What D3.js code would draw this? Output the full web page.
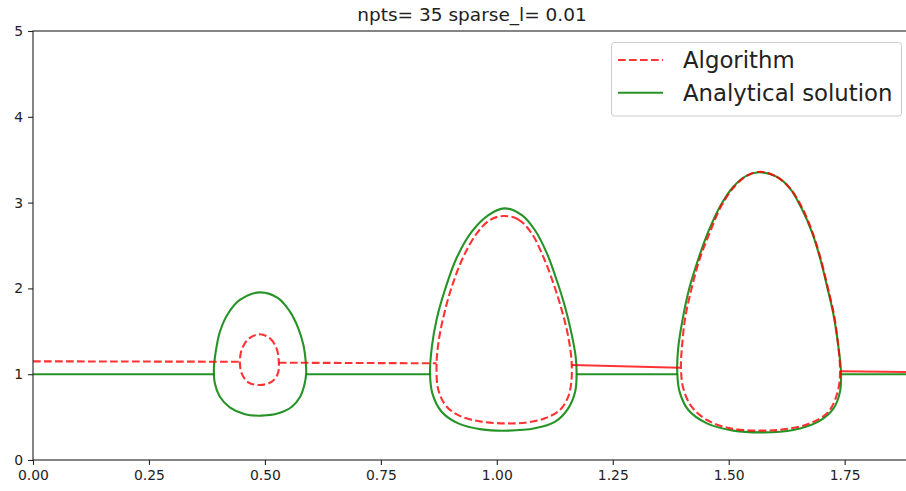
<!DOCTYPE html>
<html>
<head>
<meta charset="utf-8">
<script src="https://cdn.jsdelivr.net/npm/d3@7/dist/d3.min.js"></script>
<style>
  body { margin: 0; background: #fff; }
  svg { display: block; }
</style>
</head>
<body>
<div class="chart"></div>
<script>
// tick values
const xTicks = [0, 0.25, 0.5, 0.75, 1.0, 1.25, 1.5, 1.75];
const yTicks = [0, 1, 2, 3, 4, 5];
const titleText = "npts= 35 sparse_l= 0.01";
const legendLabels = ["Algorithm", "Analytical solution"];

// analytical solution: flat parts between the drops
const exactFlat = [
  [[0, 1.0], [0.390, 1.0]],
  [[0.589, 1.0], [0.856, 1.0]],
  [[1.172, 1.0], [1.389, 1.0]],
  [[1.742, 1.0], [1.893, 1.0]]
];
// analytical solution: the three drops
const exactDrop1 = [
  [0.489, 1.954], [0.529, 1.885], [0.554, 1.729], [0.572, 1.535], [0.583, 1.340],
  [0.588, 1.146], [0.589, 1.010], [0.585, 0.874], [0.576, 0.738], [0.558, 0.621],
  [0.529, 0.544], [0.493, 0.517], [0.457, 0.533], [0.425, 0.610], [0.403, 0.738],
  [0.392, 0.894], [0.390, 1.069], [0.394, 1.262], [0.403, 1.495], [0.421, 1.710],
  [0.446, 1.865]
];
const exactDrop2 = [
  [1.016, 2.933], [1.054, 2.855], [1.082, 2.681], [1.108, 2.409], [1.129, 2.098],
  [1.147, 1.787], [1.161, 1.476], [1.170, 1.204], [1.172, 1.010], [1.169, 0.797],
  [1.154, 0.602], [1.126, 0.447], [1.082, 0.369], [1.025, 0.342], [0.967, 0.357],
  [0.917, 0.427], [0.881, 0.563], [0.861, 0.777], [0.856, 1.010], [0.860, 1.321],
  [0.870, 1.632], [0.888, 1.981], [0.913, 2.351], [0.946, 2.661], [0.982, 2.855]
];
const exactDrop3 = [
  [1.566, 3.353], [1.603, 3.302], [1.632, 3.166], [1.657, 2.933], [1.679, 2.661],
  [1.697, 2.351], [1.713, 2.001], [1.726, 1.690], [1.736, 1.340], [1.742, 1.029],
  [1.740, 0.797], [1.726, 0.602], [1.693, 0.447], [1.639, 0.350], [1.575, 0.322],
  [1.510, 0.342], [1.453, 0.427], [1.413, 0.583], [1.394, 0.797], [1.389, 1.029],
  [1.391, 1.302], [1.401, 1.651], [1.415, 2.001], [1.435, 2.351], [1.456, 2.661],
  [1.481, 2.952], [1.510, 3.185], [1.539, 3.314]
];

// algorithm: flat parts (last two look solid in the picture)
const algoFlat = [
  [[0, 1.150], [0.446, 1.145]],
  [[0.530, 1.134], [0.870, 1.127]],
  [[1.161, 1.107], [1.395, 1.076]],
  [[1.740, 1.035], [1.893, 1.025]]
];
const algoFlatDashed = [true, true, false, false];
// algorithm: the three drops
const algoDrop1 = [
  [0.489, 1.465], [0.511, 1.418], [0.525, 1.302], [0.530, 1.146], [0.528, 1.010],
  [0.515, 0.913], [0.489, 0.874], [0.464, 0.905], [0.450, 1.010], [0.446, 1.146],
  [0.451, 1.302], [0.466, 1.418]
];
const algoDrop2 = [
  [1.014, 2.844], [1.046, 2.805], [1.075, 2.642], [1.100, 2.370], [1.122, 2.059],
  [1.140, 1.748], [1.154, 1.437], [1.161, 1.166], [1.161, 0.932], [1.154, 0.738],
  [1.136, 0.583], [1.104, 0.486], [1.061, 0.435], [1.018, 0.427], [0.967, 0.447],
  [0.924, 0.505], [0.892, 0.621], [0.874, 0.816], [0.870, 1.087], [0.874, 1.360],
  [0.885, 1.670], [0.903, 2.020], [0.928, 2.370], [0.957, 2.642], [0.985, 2.797]
];
const algoDrop3 = [
  [1.569, 3.360], [1.603, 3.302], [1.632, 3.166], [1.659, 2.933], [1.680, 2.661],
  [1.698, 2.351], [1.714, 2.001], [1.727, 1.690], [1.736, 1.340], [1.740, 1.029],
  [1.735, 0.797], [1.715, 0.563], [1.675, 0.427], [1.618, 0.357], [1.567, 0.342],
  [1.503, 0.369], [1.453, 0.466], [1.420, 0.621], [1.402, 0.836], [1.397, 1.069],
  [1.399, 1.302], [1.406, 1.651], [1.420, 2.001], [1.438, 2.351], [1.460, 2.661],
  [1.485, 2.972], [1.514, 3.197], [1.542, 3.322]
];

const WIDTH = 906, HEIGHT = 491;
const M = { left: 33, right: 911, top: 31, bottom: 460 };
const RED = "#ff0000", GREEN = "#008000";
const FONT = "'DejaVu Sans', sans-serif";

const svg = d3.select(".chart").append("svg")
  .attr("width", WIDTH).attr("height", HEIGHT);

const x = d3.scaleLinear().domain([0, 1.893]).range([M.left, M.right]);
const y = d3.scaleLinear().domain([0, 5]).range([M.bottom, M.top]);

svg.append("clipPath").attr("id", "plotclip")
  .append("rect")
  .attr("x", M.left).attr("y", M.top)
  .attr("width", M.right - M.left).attr("height", M.bottom - M.top);

const plot = svg.append("g").attr("clip-path", "url(#plotclip)");

const line = d3.line().x(d => x(d[0])).y(d => y(d[1]));
const loop = d3.line().x(d => x(d[0])).y(d => y(d[1]))
  .curve(d3.curveCatmullRomClosed.alpha(0.5));

// analytical (green)
exactFlat.forEach(seg => {
  plot.append("path").attr("d", line(seg))
    .attr("fill", "none").attr("stroke", GREEN).attr("stroke-opacity", 0.85)
    .attr("stroke-width", 2.1);
});
[exactDrop1, exactDrop2, exactDrop3].forEach(pts => {
  plot.append("path").attr("d", loop(pts))
    .attr("fill", "none").attr("stroke", GREEN).attr("stroke-opacity", 0.85)
    .attr("stroke-width", 2.1);
});

// algorithm (red dashed)
algoFlat.forEach((seg, i) => {
  plot.append("path").attr("d", line(seg))
    .attr("fill", "none").attr("stroke", RED).attr("stroke-opacity", 0.8)
    .attr("stroke-width", 2.1)
    .attr("stroke-dasharray", algoFlatDashed[i] ? "7.7,3.3" : null);
});
[algoDrop1, algoDrop2, algoDrop3].forEach(pts => {
  plot.append("path").attr("d", loop(pts))
    .attr("fill", "none").attr("stroke", RED).attr("stroke-opacity", 0.8)
    .attr("stroke-width", 2.1)
    .attr("stroke-dasharray", "7.7,3.3");
});

// axes
const xAxis = svg.append("g")
  .attr("transform", `translate(0,${M.bottom})`)
  .call(d3.axisBottom(x).tickValues(xTicks).tickFormat(d3.format(".2f"))
    .tickSize(4.9).tickPadding(4.9));
const yAxis = svg.append("g")
  .attr("transform", `translate(${M.left},0)`)
  .call(d3.axisLeft(y).tickValues(yTicks).tickFormat(d3.format("d"))
    .tickSize(4.9).tickPadding(4.9));
[xAxis, yAxis].forEach(g => {
  g.select(".domain").remove();
  g.selectAll(".tick line").attr("stroke", "#222").attr("stroke-width", 1.1);
  g.selectAll(".tick text").attr("fill", "#222")
    .style("font-family", FONT).style("font-size", "13.9px");
});

// spines
svg.append("rect")
  .attr("x", M.left).attr("y", M.top)
  .attr("width", M.right - M.left).attr("height", M.bottom - M.top)
  .attr("fill", "none").attr("stroke", "#222").attr("stroke-width", 1.1);

// title
svg.append("text")
  .attr("x", (M.left + M.right) / 2).attr("y", 21)
  .attr("text-anchor", "middle")
  .style("font-family", FONT).style("font-size", "18.5px").style("fill", "#222")
  .text(titleText);

// legend
const lg = svg.append("g");
lg.append("rect")
  .attr("x", 611.5).attr("y", 42.5).attr("width", 290).attr("height", 73.5)
  .attr("rx", 3)
  .attr("fill", "#fff").attr("fill-opacity", 0.8)
  .attr("stroke", "#ccc").attr("stroke-width", 1);
const legendRows = [
  { color: RED, dash: "7.7,3.3", opacity: 0.8 },
  { color: GREEN, dash: null, opacity: 0.85 }
];
legendRows.forEach((r, i) => {
  const yy = 60 + i * 32.7;
  lg.append("line")
    .attr("x1", 618).attr("x2", 663).attr("y1", yy).attr("y2", yy)
    .attr("stroke", r.color).attr("stroke-opacity", r.opacity)
    .attr("stroke-width", 2.1).attr("stroke-dasharray", r.dash);
  lg.append("text")
    .attr("x", 683).attr("y", yy + 8)
    .style("font-family", FONT).style("font-size", "22.8px").style("fill", "#222")
    .text(legendLabels[i]);
});
</script>
</body>
</html>
